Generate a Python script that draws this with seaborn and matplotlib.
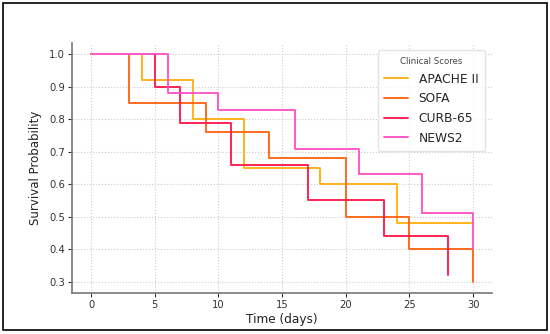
import pandas as pd
import seaborn as sns
import matplotlib.pyplot as plt
from matplotlib.patches import Rectangle

# Kaplan-Meier style step values
scores = ["APACHE II", "SOFA", "CURB-65", "NEWS2"]
apache_t = [0, 4, 8, 12, 18, 24, 30]
apache_s = [1.0, 0.92, 0.80, 0.65, 0.60, 0.48, 0.48]
sofa_t = [0, 3, 9, 14, 20, 25, 30]
sofa_s = [1.0, 0.85, 0.76, 0.68, 0.50, 0.40, 0.30]
curb_t = [0, 5, 7, 11, 17, 23, 28]
curb_s = [1.0, 0.90, 0.79, 0.66, 0.55, 0.44, 0.32]
news_t = [0, 6, 10, 16, 21, 26, 30]
news_s = [1.0, 0.88, 0.83, 0.71, 0.63, 0.51, 0.40]
colors = ["#FFB31A", "#FF6A1F", "#FF2352", "#FF5AC8"]

rows = []
for name, t, s in zip(scores, [apache_t, sofa_t, curb_t, news_t], [apache_s, sofa_s, curb_s, news_s]):
    for ti, si in zip(t, s):
        rows.append({"Time": ti, "Survival": si, "Score": name})
df = pd.DataFrame(rows)

sns.set_theme(style="whitegrid")
plt.rcParams['font.family'] = ['DejaVu Sans']

fig = plt.figure(figsize=(5.5, 3.34), dpi=100)
ax = fig.add_axes([0.131, 0.123, 0.764, 0.748])

sns.lineplot(data=df, x="Time", y="Survival", hue="Score", hue_order=scores,
             palette=colors, drawstyle="steps-post", estimator=None, sort=False,
             linewidth=1.4, ax=ax)

ax.set_xlim(-1.5, 31.5)
ax.set_ylim(0.265, 1.035)
ax.set_xticks([0, 5, 10, 15, 20, 25, 30])
ax.set_yticks([0.3, 0.4, 0.5, 0.6, 0.7, 0.8, 0.9, 1.0])
ax.set_xlabel("Time (days)", fontsize=8.7, color="#222222", labelpad=2)
ax.set_ylabel("Survival Probability", fontsize=8.5, color="#222222", labelpad=5)
ax.tick_params(axis="both", labelsize=7.2, colors="#333333", length=3, width=0.8,
               direction="out", pad=2, left=True, bottom=True)
ax.grid(True, linestyle=":", color="#cccccc", linewidth=0.8)
for side in ["top", "right"]:
    ax.spines[side].set_visible(False)
for side in ["left", "bottom"]:
    ax.spines[side].set_color("#777777")
    ax.spines[side].set_linewidth(1.2)

leg = ax.legend(title="Clinical Scores", fontsize=8.8, title_fontsize=6.2,
                loc="upper right", bbox_to_anchor=(0.983, 0.972), borderaxespad=0,
                frameon=True, handlelength=1.9, handletextpad=0.9,
                labelspacing=0.55, borderpad=0.55)
leg.get_frame().set_edgecolor("#dddddd")
leg.get_title().set_color("#444444")

# outer frame around the figure
fig.patches.append(Rectangle((0.006, 0.012), 0.988, 0.978, transform=fig.transFigure,
                             fill=False, edgecolor="black", linewidth=1.2))

fig.savefig("out.png", dpi=100)
